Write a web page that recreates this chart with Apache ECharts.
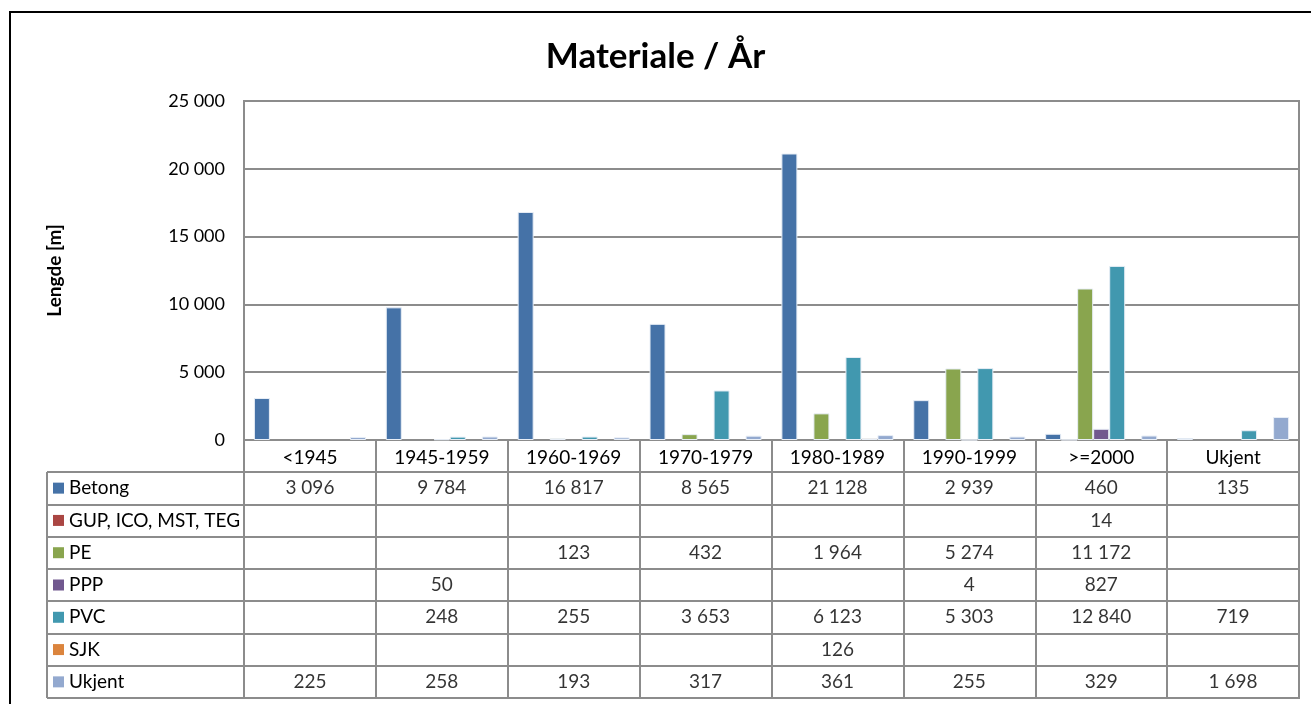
<!DOCTYPE html>
<html>
<head>
<meta charset="utf-8">
<script src="https://cdn.jsdelivr.net/npm/echarts@6/dist/echarts.min.js"></script>
<style>
  html, body { margin: 0; padding: 0; background: #fff; }
  #chart { width: 1311px; height: 704px; }
</style>
</head>
<body>
<div id="chart"></div>
<script>
// kategorier (år) og materialer
var categories = ["<1945", "1945-1959", "1960-1969", "1970-1979", "1980-1989", "1990-1999", ">=2000", "Ukjent"];
var seriesNames = ["Betong", "GUP, ICO, MST, TEG", "PE", "PPP", "PVC", "SJK", "Ukjent"];
var betong = [3096, 9784, 16817, 8565, 21128, 2939, 460, 135];
var gup = [null, null, null, null, null, null, 14, null];
var pe = [null, null, 123, 432, 1964, 5274, 11172, null];
var ppp = [null, 50, null, null, null, 4, 827, null];
var pvc = [null, 248, 255, 3653, 6123, 5303, 12840, 719];
var sjk = [null, null, null, null, 126, null, null, null];
var ukjent = [225, 258, 193, 317, 361, 255, 329, 1698];
var yTicks = [0, 5000, 10000, 15000, 20000, 25000];

var seriesValues = [betong, gup, pe, ppp, pvc, sjk, ukjent];
var colors = ["#4572A7", "#AA4643", "#89A54E", "#71588F", "#4198AF", "#DB843D", "#93A9CF"];
var font = "Lato, 'Open Sans', sans-serif";
var lineGray = "#8c8c8c";
var textSize = 19;

function fmt(v) {
  return String(v).replace(/\B(?=(\d{3})+(?!\d))/g, " ");
}

var chart = echarts.init(document.getElementById("chart"));

var barSeries = seriesNames.map(function (name, i) {
  return {
    name: name,
    type: "bar",
    xAxisIndex: 0,
    yAxisIndex: 0,
    data: seriesValues[i],
    barGap: "0%",
    barCategoryGap: "15%",
    itemStyle: { color: colors[i], borderColor: "#e8eef6", borderWidth: 1 },
    animation: false
  };
});

// tabellceller
var cellData = [];
seriesValues.forEach(function (vals, i) {
  vals.forEach(function (v, j) {
    if (v !== null) cellData.push([j, i, v]);
  });
});

// rich-stil for tegnforklaringsruter
var rich = { name: { fontSize: textSize, fontFamily: font, color: "#000", padding: [0, 0, 0, 5] } };
colors.forEach(function (c, i) {
  rich["sq" + i] = { width: 11, height: 11, backgroundColor: c };
});

var option = {
  backgroundColor: "#fff",
  animation: false,
  title: {
    text: "Materiale / År",
    left: "center",
    top: 34,
    textStyle: { fontFamily: font, fontSize: 35, fontWeight: "bold", color: "#000" }
  },
  graphic: [
    {
      type: "rect",
      shape: { x: 10, y: 12, width: 1400, height: 800 },
      style: { fill: "none", stroke: "#000", lineWidth: 2 },
      silent: true
    },
    {
      type: "line",
      shape: { x1: 47, y1: 472, x2: 47, y2: 698 },
      style: { stroke: lineGray, lineWidth: 2 },
      silent: true
    }
  ],
  grid: [
    { left: 244, top: 101, width: 1055, height: 339, show: true, borderColor: lineGray, borderWidth: 2 },
    { left: 244, top: 472, width: 1055, height: 226, show: true, borderColor: lineGray, borderWidth: 2 }
  ],
  xAxis: [
    {
      type: "category",
      gridIndex: 0,
      data: categories,
      axisLine: { lineStyle: { color: lineGray, width: 2 } },
      axisTick: { show: true, length: 32, lineStyle: { color: lineGray, width: 2 } },
      axisLabel: { interval: 0, margin: 8, fontSize: textSize, fontFamily: font, color: "#000" }
    },
    {
      type: "category",
      gridIndex: 1,
      data: categories,
      axisLine: { show: false },
      axisTick: { show: false },
      axisLabel: { show: false },
      splitLine: { show: true, interval: 0, lineStyle: { color: lineGray, width: 2 } }
    }
  ],
  yAxis: [
    {
      type: "value",
      gridIndex: 0,
      min: yTicks[0],
      max: yTicks[yTicks.length - 1],
      interval: yTicks[1] - yTicks[0],
      name: "Lengde [m]",
      nameLocation: "middle",
      nameGap: 180,
      nameTextStyle: { fontFamily: font, fontSize: 19, fontWeight: "bold", color: "#000" },
      axisLine: { show: false },
      axisTick: { show: false },
      axisLabel: {
        fontSize: 18,
        fontFamily: font,
        color: "#000",
        margin: 19,
        formatter: function (v) { return fmt(v); }
      },
      splitLine: { show: true, lineStyle: { color: lineGray, width: 2 } }
    },
    {
      type: "category",
      gridIndex: 1,
      inverse: true,
      data: seriesNames,
      axisLine: { show: false },
      axisTick: { show: true, length: 197, lineStyle: { color: lineGray, width: 2 } },
      axisLabel: {
        interval: 0,
        align: "left",
        margin: 191,
        formatter: function (v) {
          var i = seriesNames.indexOf(v);
          return "{sq" + i + "|}{name|" + v + "}";
        },
        rich: rich
      },
      splitLine: { show: true, interval: 0, lineStyle: { color: lineGray, width: 2 } }
    }
  ],
  series: barSeries.concat([
    {
      type: "scatter",
      xAxisIndex: 1,
      yAxisIndex: 1,
      data: cellData,
      symbolSize: 0,
      silent: true,
      label: {
        show: true,
        position: "inside",
        fontSize: textSize,
        fontFamily: font,
        color: "#000",
        formatter: function (p) { return fmt(p.value[2]); }
      }
    }
  ])
};

chart.setOption(option);
</script>
</body>
</html>
